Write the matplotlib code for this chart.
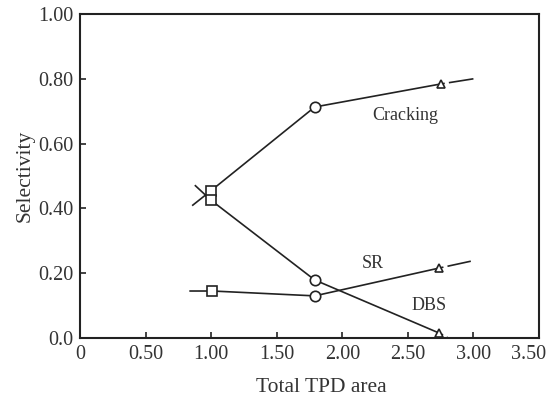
import matplotlib
matplotlib.use("Agg")
import matplotlib.pyplot as plt
from matplotlib.transforms import ScaledTranslation

plt.rcParams["font.family"] = ["Liberation Serif", "DejaVu Serif"]

# Cracking: lead-in, square, circle, triangle, dashed tail
crack_x = [0.86, 1.00, 1.79, 2.75]
crack_y = [0.41, 0.455, 0.713, 0.784]
crack_tail_x = [2.75, 3.00]
crack_tail_y = [0.784, 0.80]

# DBS
dbs_x = [0.88, 1.00, 1.79, 2.74]
dbs_y = [0.47, 0.425, 0.179, 0.015]
dbs_tail_x = [2.74, 2.80]
dbs_tail_y = [0.015, 0.003]

# SR
sr_x = [0.84, 1.01, 1.79, 2.74]
sr_y = [0.145, 0.145, 0.13, 0.216]
sr_tail_x = [2.74, 2.98]
sr_tail_y = [0.216, 0.237]

xticks = [0, 0.5, 1.0, 1.5, 2.0, 2.5, 3.0, 3.5]
xlabels = ["0", "0.50", "1.00", "1.50", "2.00", "2.50", "3.00", "3.50"]
yticks = [0, 0.2, 0.4, 0.6, 0.8, 1.0]
ylabels = ["0.0", "0.20", "0.40", "0.60", "0.80", "1.00"]

fig = plt.figure(figsize=(5.49, 3.99), dpi=100)
ax = fig.add_axes([0.1457, 0.1529, 0.8361, 0.8120])

lc = "#222222"
tc = "#333333"
mk = dict(markerfacecolor="white", markeredgecolor=lc, markeredgewidth=1.2)

for xs, ys in [(crack_x, crack_y), (dbs_x, dbs_y), (sr_x, sr_y)]:
    ax.plot(xs, ys, color=lc, lw=1.2, zorder=2)
    ax.plot(xs[1], ys[1], "s", ms=7.5, zorder=3, **mk)
    ax.plot(xs[2], ys[2], "o", ms=7.5, zorder=3, **mk)
    ax.plot(xs[3], ys[3], "^", ms=5.5, zorder=3, **mk)

# short extrapolated tails past the triangles, with a gap after the marker
for xs, ys in [(crack_tail_x, crack_tail_y), (dbs_tail_x, dbs_tail_y),
               (sr_tail_x, sr_tail_y)]:
    ax.plot(xs, ys, color=lc, lw=1.2, linestyle=(0, (2.5, 2.5, 40, 0.1)), zorder=1)

ax.text(2.48, 0.688, "Cracking", ha="center", va="center", fontsize=13, color=tc)
ax.text(2.23, 0.23, "SR", ha="center", va="center", fontsize=13, color=tc)
ax.text(2.66, 0.10, "DBS", ha="center", va="center", fontsize=13, color=tc)

ax.set_xlim(0, 3.5)
ax.set_ylim(0, 1.0)
ax.set_xticks(xticks)
ax.set_xticklabels(xlabels)
ax.set_yticks(yticks)
ax.set_yticklabels(ylabels)
ax.tick_params(direction="in", length=4, width=1.2, labelsize=14.5,
               colors=lc, labelcolor=tc, pad=5)
for s in ax.spines.values():
    s.set_linewidth(1.5)
    s.set_color(lc)

# last x label sits a bit left of its tick in the original
last = ax.get_xticklabels()[-1]
last.set_transform(last.get_transform() + ScaledTranslation(-10 / 100, 0, fig.dpi_scale_trans))

ax.set_xlabel("Total TPD area", fontsize=15.5, color=tc)
ax.xaxis.set_label_coords(0.525, -0.125)
ax.set_ylabel("Selectivity", fontsize=15.5, color=tc, labelpad=2)

fig.savefig("out.png", dpi=100)
